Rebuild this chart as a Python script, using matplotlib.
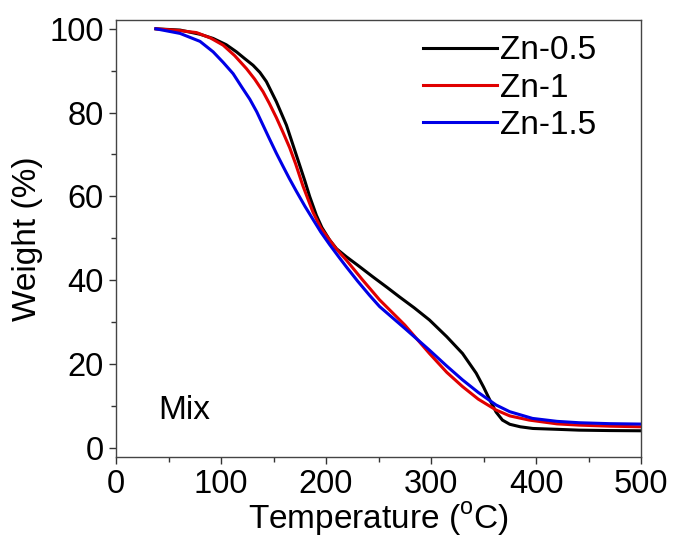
import numpy as np
import matplotlib
matplotlib.use('Agg')
import matplotlib.pyplot as plt
from matplotlib.ticker import MultipleLocator

# ---------------------------- TGA data ----------------------------

temp_zn05 = [38, 61, 80, 92.5, 105, 114.7, 122, 130.5, 137, 143.2, 152.7, 162.3, 171.8, 179.7,
             184.4, 190.8, 196, 203.4, 210, 219.3, 230, 244.6, 258, 270, 284, 298.5, 315, 330,
             343, 350, 356, 362, 368, 375, 385, 397, 420, 441, 470, 500]
wt_zn05 = [100, 99.7, 98.7, 97.7, 96.2, 94.5, 93.0, 91.3, 89.6, 87.4, 82.6, 77.0, 69.8, 63.8,
           60.0, 55.5, 52.6, 49.6, 47.5, 45.6, 43.6, 40.8, 38.3, 36.0, 33.4, 30.5, 26.5, 22.5,
           17.8, 14.5, 11.4, 8.5, 6.6, 5.6, 5.0, 4.6, 4.4, 4.2, 4.1, 4.05]

temp_zn1 = [38, 60, 76.7, 90, 102, 113, 124.2, 132, 140, 146, 152.7, 159, 165.4, 171, 178,
            187.6, 195, 203.4, 210, 219.3, 235, 251, 275, 298.5, 315, 330, 345, 362, 375,
            393.5, 420, 441, 470, 500]
wt_zn1 = [100, 99.6, 99.1, 97.8, 96.1, 93.6, 90.5, 88.0, 85.0, 82.2, 78.8, 75.3, 71.6, 67.8,
          62.5, 56.2, 52.5, 49.6, 47.4, 44.8, 40.0, 35.3, 29.3, 22.5, 18.0, 14.6, 11.6, 9.0,
          7.6, 6.6, 5.7, 5.4, 5.15, 5.0]

temp_zn15 = [38, 61, 80, 92.5, 102, 111.5, 120, 127.4, 134, 140, 146, 152.7, 159, 165, 171.8,
             180, 187.6, 195, 203.4, 212.9, 219.3, 230, 241.4, 251, 275, 298.5, 315, 330, 345,
             362, 375, 396.7, 420, 441, 470, 500]
wt_zn15 = [100, 98.9, 97.0, 94.5, 92.0, 89.3, 86.0, 83.2, 80.2, 77.0, 73.8, 70.3, 67.2, 64.3,
           61.2, 57.6, 54.5, 51.5, 48.5, 45.3, 43.2, 39.8, 36.4, 33.7, 28.5, 23.3, 19.5, 16.2,
           13.2, 10.2, 8.6, 7.0, 6.3, 5.97, 5.75, 5.65]

labels = ['Zn-0.5', 'Zn-1', 'Zn-1.5']
colors = ['#000000', '#e00000', '#0000e6']

# ---------------------------- Figure ----------------------------

plt.rcParams['font.family'] = ['Liberation Sans', 'DejaVu Sans']
plt.rcParams['mathtext.fontset'] = 'custom'
plt.rcParams['mathtext.rm'] = 'Liberation Sans'

fig = plt.figure(figsize=(6.73, 5.44), dpi=100)
ax = fig.add_axes([0.1724, 0.160, 0.7801, 0.8032])

series = [(temp_zn05, wt_zn05), (temp_zn1, wt_zn1), (temp_zn15, wt_zn15)]
for (t, w), lab, c in zip(series, labels, colors):
    ax.plot(t, w, color=c, lw=2.2, label=lab, solid_joinstyle='round')

ax.set_xlim(0, 500)
ax.set_ylim(-2.2, 102.1)
ax.xaxis.set_major_locator(MultipleLocator(100))
ax.xaxis.set_minor_locator(MultipleLocator(50))
ax.yaxis.set_major_locator(MultipleLocator(20))
ax.yaxis.set_minor_locator(MultipleLocator(10))

ax.tick_params(which='both', direction='out', top=False, right=False,
               labelsize=23.5, width=1, colors='#333333', labelcolor='black')
ax.tick_params(which='major', length=5, pad=4)
ax.tick_params(which='minor', length=3.5)
for s in ax.spines.values():
    s.set_color('#444444')
    s.set_linewidth(1)

ax.set_xlabel(r'Temperature ($^{\rm o}$C)', fontsize=24, labelpad=0)
ax.set_ylabel('Weight (%)', fontsize=24, labelpad=4)

ax.text(40, 9, 'Mix', fontsize=24, va='center', ha='left')

ax.legend(loc='upper left', bbox_to_anchor=(0.585, 0.965), frameon=False, fontsize=24,
          handlelength=2.22, handletextpad=0.1, labelspacing=0.19,
          borderpad=0, borderaxespad=0)

fig.savefig('out.png', dpi=100)
